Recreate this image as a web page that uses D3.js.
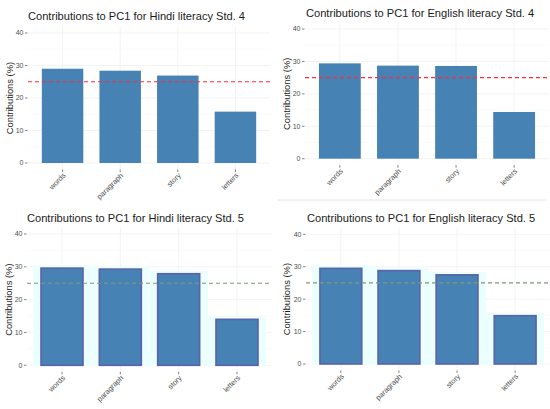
<!DOCTYPE html>
<html>
<head>
<meta charset="utf-8" />
<title>Contributions to PC1</title>
<script src="https://d3js.org/d3.v7.min.js"></script>
<style>
body { margin: 0; background: #fff; font-family: "Liberation Sans", Arial, sans-serif; }
.grid line { stroke: #ebebeb; stroke-width: 0.6; }
.grid line.minor { stroke: #f4f4f4; stroke-width: 0.4; }
.ytick, .xtick { fill: #4d4d4d; font-size: 7px; }
.xtick { font-size: 7.4px; }
.tickmark { stroke: #333; stroke-width: 0.6; }
.ptitle { fill: #1a1a1a; font-size: 11.1px; }
.ytitle { fill: #1a1a1a; font-size: 9.4px; }
</style>
</head>
<body>
<div id="graphic"></div>
<script>
// data
const categories = ["words", "paragraph", "story", "letters"];
const hindi4 = [29.0, 28.4, 26.9, 15.8];
const english4 = [29.4, 28.7, 28.6, 14.4];
const hindi5 = [29.6, 29.3, 27.9, 14.0];
const english5 = [29.5, 28.8, 27.5, 14.9];
const yTicks = [0, 10, 20, 30, 40];
const yMinor = [5, 15, 25, 35];
const refLine = 25;
const titles = [
  "Contributions to PC1 for Hindi literacy Std. 4",
  "Contributions to PC1 for English literacy Std. 4",
  "Contributions to PC1 for Hindi literacy Std. 5",
  "Contributions to PC1 for English literacy Std. 5"
];
const yLabel = "Contributions (%)";

const svg = d3.select("#graphic").append("svg")
  .attr("width", 550)
  .attr("height", 409);

// panel boxes: left/right of the x range, pixel of y=40 and y=0
const panels = [
  { values: hindi4,   title: titles[0], x0: 28,  x1: 270, top: 33,    bottom: 163,   tx: 28,  ty: 20,  yt: 13,  halo: false },
  { values: english4, title: titles[1], x0: 305, x1: 549, top: 29,    bottom: 158.7, tx: 306, ty: 17,  yt: 290, halo: false },
  { values: hindi5,   title: titles[2], x0: 27,  x1: 272, top: 234,   bottom: 365.3, tx: 27,  ty: 222, yt: 12,  halo: true },
  { values: english5, title: titles[3], x0: 306, x1: 550, top: 234.3, bottom: 364,   tx: 307, ty: 222, yt: 290, halo: true }
];

// thin separator under the top-right panel
svg.append("line")
  .attr("x1", 278).attr("x2", 546)
  .attr("y1", 200).attr("y2", 200)
  .style("stroke", "#e4e4e4").style("stroke-width", 1);

panels.forEach((p) => {
  const g = svg.append("g");

  const x = d3.scalePoint()
    .domain(categories)
    .range([p.x0, p.x1])
    .padding(0.6);

  const y = d3.scaleLinear()
    .domain([0, 40])
    .range([p.bottom, p.top]);

  const yLo = y(-2), yHi = y(42);
  const bw = x.step() * 0.72;

  // grid
  const grid = g.append("g").attr("class", "grid");
  grid.selectAll(".minor")
    .data(yMinor)
    .enter().append("line")
    .attr("class", "minor")
    .attr("x1", p.x0).attr("x2", p.x1)
    .attr("y1", (d) => y(d)).attr("y2", (d) => y(d));
  grid.selectAll(".major")
    .data(yTicks)
    .enter().append("line")
    .attr("class", "major")
    .attr("x1", p.x0).attr("x2", p.x1)
    .attr("y1", (d) => y(d)).attr("y2", (d) => y(d));
  grid.selectAll(".vert")
    .data(categories)
    .enter().append("line")
    .attr("class", "vert")
    .attr("x1", (d) => x(d)).attr("x2", (d) => x(d))
    .attr("y1", yHi).attr("y2", yLo);

  const rows = categories.map((c, i) => ({ cat: c, v: p.values[i] }));

  // the lower panels carry a pale cyan halo round the bars
  if (p.halo) {
    g.append("g").selectAll("rect")
      .data(rows)
      .enter().append("rect")
      .attr("x", (d) => x(d.cat) - bw / 2 - 8)
      .attr("width", bw + 16)
      .attr("y", (d) => y(d.v) - 3)
      .attr("height", (d) => y(0) - y(d.v) + 4)
      .style("fill", "#ebffff");
  }

  g.append("g").selectAll("rect")
    .data(rows)
    .enter().append("rect")
    .attr("x", (d) => x(d.cat) - bw / 2)
    .attr("width", bw)
    .attr("y", (d) => y(d.v))
    .attr("height", (d) => y(0) - y(d.v))
    .style("fill", "#4682b4")
    .style("stroke", p.halo ? "#5d60aa" : "none")
    .style("stroke-width", p.halo ? 1.6 : 0);

  // reference line
  g.append("line")
    .attr("x1", p.x0).attr("x2", p.x1)
    .attr("y1", y(refLine)).attr("y2", y(refLine))
    .style("stroke", p.halo ? "#7f9a74" : "#fa2f3c")
    .style("stroke-width", 1.2)
    .style("stroke-dasharray", "4,3");

  // y axis
  g.selectAll(".ytm")
    .data(yTicks)
    .enter().append("line")
    .attr("class", "tickmark")
    .attr("x1", p.x0 - 3).attr("x2", p.x0 - 0.5)
    .attr("y1", (d) => y(d)).attr("y2", (d) => y(d));
  g.selectAll(".ytick")
    .data(yTicks)
    .enter().append("text")
    .attr("class", "ytick")
    .attr("x", p.x0 - 4.5)
    .attr("y", (d) => y(d))
    .attr("dy", "0.35em")
    .attr("text-anchor", "end")
    .text((d) => d);

  // x axis
  g.selectAll(".xtm")
    .data(categories)
    .enter().append("line")
    .attr("class", "tickmark")
    .attr("x1", (d) => x(d)).attr("x2", (d) => x(d))
    .attr("y1", yLo).attr("y2", yLo + 2.5);
  g.selectAll(".xtick")
    .data(categories)
    .enter().append("text")
    .attr("class", "xtick")
    .attr("text-anchor", "end")
    .attr("transform", (d) => "translate(" + (x(d) + 3.5) + "," + (yLo + 6.5) + ") rotate(-45)")
    .text((d) => d);

  // titles
  g.append("text")
    .attr("class", "ptitle")
    .attr("x", p.tx).attr("y", p.ty)
    .text(p.title);
  g.append("text")
    .attr("class", "ytitle")
    .attr("text-anchor", "middle")
    .attr("transform", "translate(" + p.yt + "," + y(20) + ") rotate(-90)")
    .text(yLabel);
});
</script>
</body>
</html>
